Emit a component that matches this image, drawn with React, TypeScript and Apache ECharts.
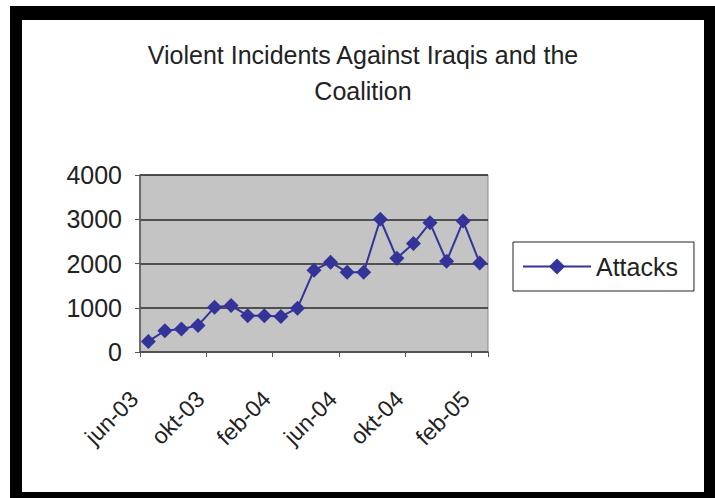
import { useEffect, useRef } from "react";
import * as echarts from "echarts";

const categories = [
  "jun-03", "jul-03", "aug-03", "sep-03", "okt-03", "nov-03", "dec-03",
  "jan-04", "feb-04", "mar-04", "apr-04", "maj-04", "jun-04", "jul-04",
  "aug-04", "sep-04", "okt-04", "nov-04", "dec-04", "jan-05", "feb-05",
];
const attacks = [
  240, 480, 520, 600, 1010, 1050, 820, 820, 800, 990, 1850, 2030, 1800, 1800,
  3000, 2120, 2450, 2920, 2050, 2960, 2010,
];
const yMin = 0;
const yMax = 4000;
const yStep = 1000;
const titleText = "Violent Incidents Against Iraqis and the\nCoalition";
const seriesName = "Attacks";

const FONT = "'Liberation Sans', Arial, Helvetica, sans-serif";

export default function App() {
  const ref = useRef<HTMLDivElement>(null);
  useEffect(() => {
    if (!ref.current) return;
    const chart = echarts.init(ref.current, undefined, { renderer: "svg" });
    chart.setOption({
      animation: false,
      backgroundColor: "transparent",
      title: {
        text: titleText,
        left: 363,
        top: 37,
        padding: 0,
        textAlign: "center",
        textStyle: {
          fontFamily: FONT,
          fontSize: 25,
          fontWeight: "normal",
          color: "#222",
          lineHeight: 36,
        },
      },
      legend: {
        orient: "vertical",
        left: 513,
        top: 242,
        padding: [12, 16, 12, 9],
        borderColor: "#222",
        borderWidth: 1,
        itemWidth: 68,
        itemHeight: 20,
        data: [seriesName],
        textStyle: { fontFamily: FONT, fontSize: 25, color: "#222" },
      },
      grid: {
        left: 140,
        top: 175,
        width: 348,
        height: 177,
        show: true,
        backgroundColor: "#c4c4c4",
        borderColor: "#888",
        borderWidth: 1,
      },
      xAxis: {
        type: "category",
        data: categories,
        boundaryGap: true,
        axisLine: { show: true, lineStyle: { color: "#555", width: 1.5 } },
        axisTick: { show: true, interval: 3, length: 5, lineStyle: { color: "#555" } },
        axisLabel: {
          interval: 3,
          rotate: 45,
          margin: 29,
          padding: [0, 20, 0, 0],
          fontFamily: FONT,
          fontSize: 23,
          color: "#222",
        },
        splitLine: { show: false },
      },
      yAxis: {
        type: "value",
        min: yMin,
        max: yMax,
        interval: yStep,
        axisLine: { show: true, lineStyle: { color: "#555", width: 1.5 } },
        axisTick: { show: true, length: 5, lineStyle: { color: "#555" } },
        axisLabel: {
          margin: 18,
          fontFamily: FONT,
          fontSize: 25,
          color: "#222",
          formatter: (v: number) => String(v),
        },
        splitLine: { show: true, lineStyle: { color: "#2a2a2a", width: 1.5 } },
      },
      series: [
        {
          name: seriesName,
          type: "line",
          data: attacks,
          symbol: "diamond",
          symbolSize: 15,
          showSymbol: true,
          showAllSymbol: true,
          itemStyle: { color: "#333399" },
          lineStyle: { color: "#333399", width: 2 },
        },
      ],
    });
    return () => chart.dispose();
  }, []);

  return (
    <div style={{ position: "absolute", left: 0, top: 0, width: 715, height: 498, background: "#fff", overflow: "hidden" }}>
      <div style={{ position: "absolute", left: 10, top: 6, width: 705, height: 492, background: "#000" }} />
      <div style={{ position: "absolute", left: 22, top: 20, width: 682, height: 472, background: "#fff" }} />
      <div ref={ref} style={{ position: "absolute", left: 0, top: 0, width: 715, height: 498 }} />
    </div>
  );
}
